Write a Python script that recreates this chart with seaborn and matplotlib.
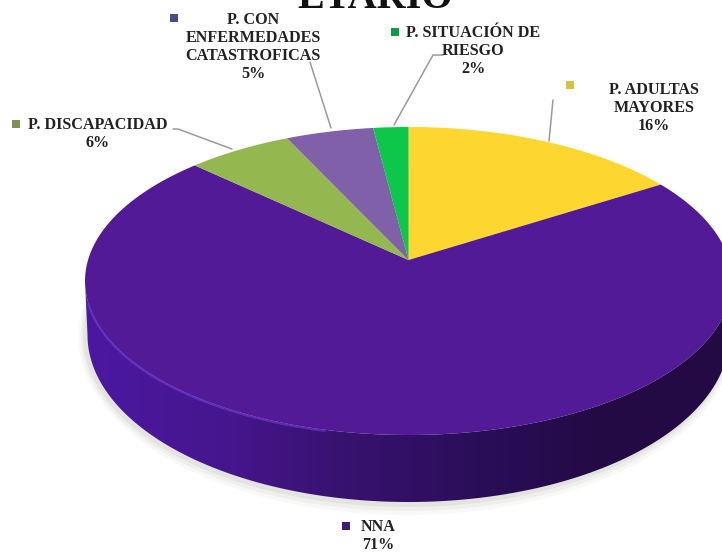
import matplotlib
matplotlib.use('Agg')
import matplotlib.pyplot as plt
import numpy as np
import seaborn as sns
from matplotlib.patches import Ellipse, Polygon
from matplotlib.path import Path
from matplotlib.transforms import Affine2D, Transform

title = 'ETARIO'
categories = ['P. ADULTAS\nMAYORES', 'NNA', 'P. DISCAPACIDAD',
              'P. CON\nENFERMEDADES\nCATASTROFICAS', 'P. SITUACIÓN DE\nRIESGO']
values = [16, 71, 6, 5, 2]
slice_colors = ['#fdd62f', '#521a96', '#94b84f', '#8060a8', '#0cc74a']
key_colors = ['#d8c040', '#3d1a80', '#7d9150', '#4b4a8c', '#0f9a48']

# where the disc sits in the picture (pixels)
CX, CY, RX, RY = 408.5, 281, 323.5, 154
TILT = 0.136
SIDE_CY, SIDE_RX, SIDE_RY = 335, 321, 167

# label centre, key square
label_pos = [(654, 108), (378, 536), (98, 134), (253, 47), (473, 51)]
key_pos = [(570, 85), (346, 526), (16, 124), (174, 18), (395, 32)]
leaders = [
    [(553, 100), (549, 141)],
    [(173, 129), (178, 129), (232, 149)],
    [(310, 62), (331, 128)],
    [(443, 55), (433, 55), (394, 125)],
]


class TiltTransform(Transform):
    # perspective view of the unit disc, centre ends up above the ellipse centre
    input_dims = 2
    output_dims = 2

    def transform_non_affine(self, xy):
        xy = np.asarray(xy, dtype=float)
        d = 1 + TILT * xy[:, 1]
        x = xy[:, 0] * np.sqrt(1 - TILT ** 2) / d
        y = (xy[:, 1] + TILT) / d
        return np.column_stack([CX + RX * x, CY - RY * y])

    def transform_path_non_affine(self, path):
        big = Affine2D().scale(1000).transform_path(path)
        poly = big.to_polygons(closed_only=True)[0] / 1000
        return Path(self.transform_non_affine(poly))


sns.set_theme(style='white')
plt.rcParams['font.family'] = ['Liberation Serif', 'DejaVu Serif']

fig = plt.figure(figsize=(7.22, 5.54), dpi=100)
ax = fig.add_axes([0, 0, 1, 1])

wedges, _ = ax.pie(values, colors=slice_colors, startangle=90, counterclock=False,
                   wedgeprops={'linewidth': 0, 'zorder': 4})
tilt = TiltTransform()
for wedge in wedges:
    wedge.set_transform(tilt + ax.transData)

# soft shadow under the disc
for grow, alpha in zip([12, 8, 4], [0.05, 0.07, 0.1]):
    ax.add_patch(Ellipse((CX - 2, SIDE_CY + 1), 2 * (SIDE_RX + grow * 0.6), 2 * (SIDE_RY + grow),
                         color='#808070', alpha=alpha, lw=0, zorder=1))

# side of the disc, light on the left and dark on the right
t = np.linspace(0, np.pi, 300)
lower = np.column_stack([CX + SIDE_RX * np.cos(t), SIDE_CY + SIDE_RY * np.sin(t)])
upper = np.column_stack([CX + RX * np.cos(t), CY + RY * np.sin(t)])[::-1]
side = Polygon(np.vstack([lower, upper]), closed=True, transform=ax.transData, lw=0)
cmap = sns.blend_palette(['#4b18a0', '#461690', '#38126f', '#2a0e5a', '#240a44', '#240a44'],
                         as_cmap=True)
shade = ax.imshow(np.linspace(0, 1, 256).reshape(1, -1), cmap=cmap, aspect='auto',
                  extent=(85, 735, 554, 0), zorder=2)
shade.set_clip_path(side)

# small highlight along the front rim
t = np.linspace(np.radians(105), np.radians(172), 120)
ax.plot(CX + RX * np.cos(t), CY + RY * np.sin(t) + 1, color='#6b36c8', lw=1.6, alpha=0.7,
        zorder=5, solid_capstyle='round')

for line in leaders:
    xs, ys = zip(*line)
    ax.plot(xs, ys, color='#9a9a9a', lw=1.1, zorder=3)

for name, val, (lx, ly), (kx, ky), col in zip(categories, values, label_pos, key_pos, key_colors):
    ax.text(lx, ly, f'{name}\n{val}%', ha='center', va='center', fontsize=11.6,
            fontweight='bold', color='#222222', linespacing=1.16, zorder=6)
    ax.scatter([kx], [ky], marker='s', s=30, color=col, linewidths=0, zorder=6)

ax.text(375, 8, title, ha='center', va='baseline', fontsize=29, fontweight='bold',
        color='#111111', zorder=6)

ax.set_aspect('auto')
ax.set_xlim(0, 722)
ax.set_ylim(554, 0)
ax.axis('off')

fig.savefig('out.png', dpi=100)
